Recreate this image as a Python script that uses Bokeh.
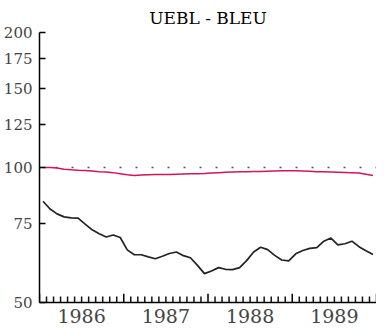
from bokeh.plotting import figure
from bokeh.models import FixedTicker, Span, PrintfTickFormatter, Range1d, LinearScale
from bokeh.embed import file_html
from bokeh.resources import INLINE
import pandas as pd

# Monthly observations, Jan 1986 .. Dec 1989
dates = pd.date_range("1986-01-01", periods=48, freq="MS")
t = [d.year + (d.month - 0.5) / 12 for d in dates]

# Black series (index)
black_vals = [84.1, 80.8, 78.8, 77.6, 77.2, 77.1, 74.8, 72.6, 71.2, 70.0, 70.7, 69.8,
              65.5, 63.9, 63.9, 63.2, 62.6, 63.4, 64.3, 64.8, 63.6, 62.9, 60.5, 58.0,
              58.8, 59.8, 59.3, 59.2, 59.8, 62.0, 64.8, 66.4, 65.6, 63.7, 62.2, 61.9,
              64.2, 65.3, 66.0, 66.3, 68.5, 69.6, 67.2, 67.6, 68.5, 66.6, 65.2, 64.0]

# Red series (index)
red_vals = [100.0, 100.0, 99.8, 99.1, 98.8, 98.6, 98.5, 98.2, 97.9, 97.7, 97.4, 96.9,
            96.4, 96.0, 96.2, 96.4, 96.5, 96.5, 96.5, 96.6, 96.7, 96.8, 96.9, 97.0,
            97.2, 97.4, 97.6, 97.7, 97.8, 97.9, 98.0, 98.0, 98.1, 98.2, 98.3, 98.3,
            98.3, 98.2, 98.1, 97.9, 97.8, 97.7, 97.6, 97.5, 97.4, 97.2, 96.6, 96.0]

y_ticks = [50, 75, 100, 125, 150, 175, 200]
years = [1986, 1987, 1988, 1989, 1990]
year_labels = ["1986", "1987", "1988", "1989"]
reference_level = 100

month_edges = [y + m / 12 for y in years[:-1] for m in range(1, 12)]
mid_years = [y + 0.5 for y in years[:-1]]

FONT = "DejaVu Serif"
YEAR_TICK_FRAC = 0.032    # tick heights as fractions of the frame height
MONTH_TICK_FRAC = 0.022

p = figure(width=376, height=325, y_axis_type="log",
           x_range=(years[0], years[-1]), y_range=(y_ticks[0], y_ticks[-1]),
           output_backend="svg", toolbar_location=None, title="UEBL - BLEU",
           min_border_left=0, min_border_right=0, min_border_top=0, min_border_bottom=0)
p.extra_y_ranges = {"frac": Range1d(0, 1)}
p.extra_y_scales = {"frac": LinearScale()}

p.title.align = "center"
p.title.text_font = FONT
p.title.text_font_size = "17px"
p.title.text_font_style = "normal"
p.title.text_color = "black"

p.outline_line_color = None
p.xgrid.visible = False
p.ygrid.visible = False
p.background_fill_color = "white"
p.border_fill_color = "white"

# y axis
ya = p.yaxis[0]
ya.ticker = FixedTicker(ticks=y_ticks, minor_ticks=[])
ya.formatter = PrintfTickFormatter(format="%d")
ya.major_tick_in = 6
ya.major_tick_out = 0
ya.minor_tick_in = 0
ya.minor_tick_out = 0
ya.axis_line_width = 1.5
ya.major_tick_line_width = 1.5
ya.major_label_text_font = FONT
ya.major_label_text_font_size = "15px"
ya.major_label_standoff = 7
ya.axis_line_color = "black"

# x axis: labels at mid-year
xa = p.xaxis[0]
xa.ticker = FixedTicker(ticks=mid_years, minor_ticks=[])
xa.major_label_overrides = {m: lab for m, lab in zip(mid_years, year_labels)}
xa.major_tick_in = 0
xa.major_tick_out = 0
xa.minor_tick_in = 0
xa.minor_tick_out = 0
xa.axis_line_width = 1.5
xa.major_label_text_font = FONT
xa.major_label_text_font_size = "19px"
xa.major_label_standoff = 6

# monthly and yearly ticks along the time axis
p.segment(x0=month_edges, x1=month_edges, y0=0, y1=MONTH_TICK_FRAC, y_range_name="frac",
          line_color="#111111", line_width=1.5)
p.segment(x0=years, x1=years, y0=0, y1=YEAR_TICK_FRAC, y_range_name="frac",
          line_color="black", line_width=1.5)

ref = Span(location=reference_level, dimension="width", line_color="#555555",
           line_width=1.5, line_dash="2 14", level="underlay")
p.add_layout(ref)

p.line(t, red_vals, line_color="#d4145a", line_width=1.5)
p.line(t, black_vals, line_color="#222222", line_width=1.7)

open("out.html", "w").write(file_html(p, INLINE))
